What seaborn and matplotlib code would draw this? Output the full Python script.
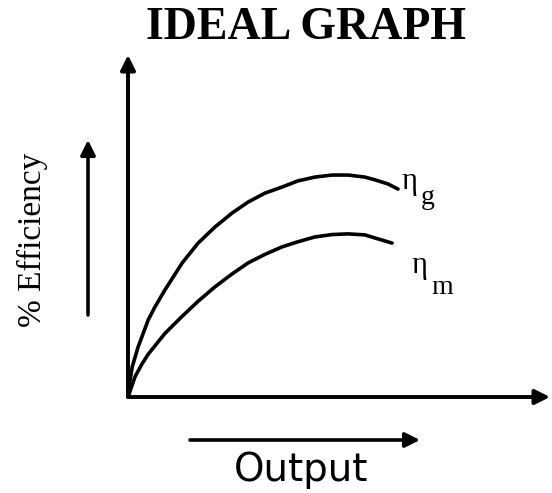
import matplotlib
matplotlib.use("Agg")
import matplotlib.pyplot as plt
import pandas as pd
import seaborn as sns

# values (output %, efficiency %)
output_g = [0, 0.5, 1.0, 2.4, 4.8, 6.4, 8.8, 12.9, 16.7, 20.7, 24.8, 28.6,
            32.6, 36.7, 40.5, 44.5, 48.6, 52.4, 56.4, 58.8, 61.9, 64.3]
eff_g = [0, 5.0, 8.8, 14.6, 22.5, 26.3, 31.3, 39.2, 45.0, 49.7, 53.8, 57.0,
         59.6, 61.4, 63.2, 64.3, 64.9, 64.9, 64.3, 63.5, 62.3, 60.8]
output_m = [0, 1.7, 3.3, 4.8, 8.8, 12.9, 16.7, 20.7, 24.8, 28.6, 32.6, 36.7,
            40.5, 44.5, 48.6, 52.4, 56.4, 58.8, 62.9]
eff_m = [0, 6.0, 9.6, 12.5, 18.6, 23.6, 28.0, 32.2, 36.0, 39.2, 41.7, 43.9,
         45.4, 46.8, 47.5, 47.7, 47.4, 46.5, 45.0]

df_g = pd.DataFrame({"output": output_g, "eff": eff_g})
df_m = pd.DataFrame({"output": output_m, "eff": eff_m})

sns.set_style("white")
plt.rcParams["font.family"] = ["Liberation Serif", "DejaVu Sans"]
plt.rcParams["text.color"] = "black"

W, H = 552, 493
fig = plt.figure(figsize=(W / 100, H / 100), dpi=100)
ax = fig.add_axes([128 / W, 1 - 397 / H, (550 - 128) / W, (397 - 55) / H])

sns.lineplot(data=df_g, x="output", y="eff", ax=ax, color="black",
             lw=2.6, sort=False, estimator=None)
sns.lineplot(data=df_m, x="output", y="eff", ax=ax, color="black",
             lw=2.6, sort=False, estimator=None)
ax.set_xlim(0, 100.5)
ax.set_ylim(0, 100)
for s in ax.spines.values():
    s.set_visible(False)
ax.set_xticks([])
ax.set_yticks([])
ax.set_xlabel("")
ax.set_ylabel("")
ax.patch.set_alpha(0)

arrow = dict(arrowstyle="-|>", lw=2.8, color="black", mutation_scale=22,
             shrinkA=0, shrinkB=0)
ax.annotate("", xy=(1, 0), xytext=(0, 0), xycoords="axes fraction",
            arrowprops=arrow, annotation_clip=False)
ax.annotate("", xy=(0, 1), xytext=(0, 0), xycoords="axes fraction",
            arrowprops=arrow, annotation_clip=False)


def fp(x, y):
    return x / W, 1 - y / H


# side arrows
fig.add_artist(plt.Annotation("", xy=fp(88, 140), xytext=fp(88, 315),
                              xycoords="figure fraction",
                              arrowprops=dict(arrow, lw=2.6)))
fig.add_artist(plt.Annotation("", xy=fp(420, 440), xytext=fp(190, 440),
                              xycoords="figure fraction",
                              arrowprops=dict(arrow, lw=2.6)))

fig.text(*fp(306, 28), "IDEAL GRAPH", ha="center", va="center",
         fontsize=33, fontweight="bold", color="black")
fig.text(*fp(32, 240), "% Efficiency", ha="center", va="center",
         rotation=90, fontsize=24, color="black")
fig.text(*fp(301, 470), "Output", ha="center", va="center",
         fontsize=28, family="DejaVu Sans", color="black")

fig.text(*fp(409, 181), "\u03b7", ha="center", va="center", fontsize=22)
fig.text(*fp(428, 198), "g", ha="center", va="center", fontsize=20)
fig.text(*fp(419, 265), "\u03b7", ha="center", va="center", fontsize=22)
fig.text(*fp(442, 288), "m", ha="center", va="center", fontsize=20)

fig.savefig("out.png", dpi=100)
